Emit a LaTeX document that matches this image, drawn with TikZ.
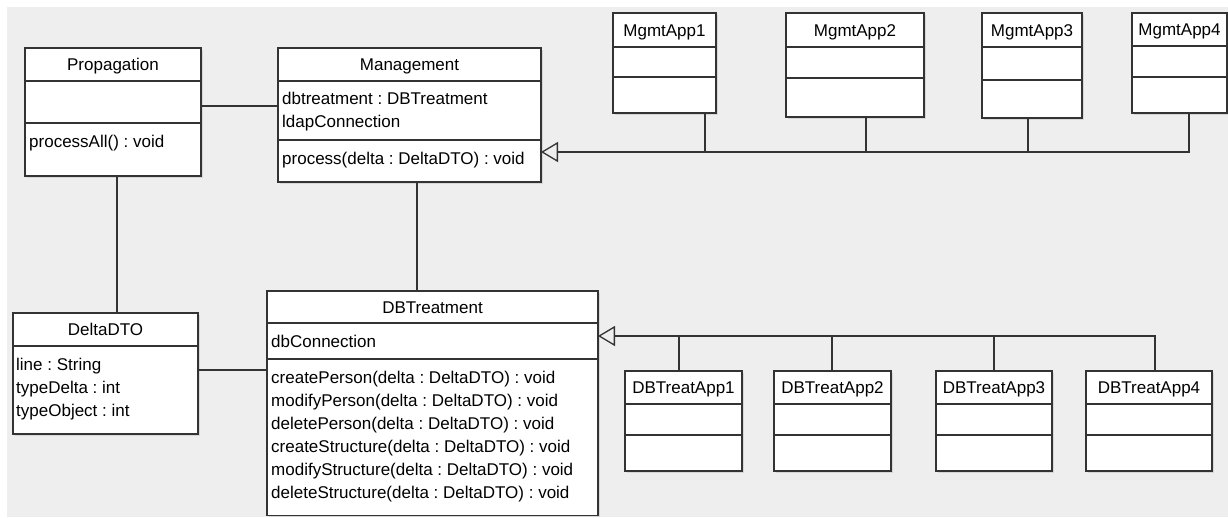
\documentclass[tikz,border=0pt]{standalone}
\usepackage{fontspec}
\setmainfont{Liberation Sans}
\usetikzlibrary{arrows.meta, shadows}
\definecolor{bggray}{HTML}{EEEEEE}
\definecolor{umlline}{HTML}{333333}
\newcommand{\umlfont}{\fontsize{17}{20}\selectfont\frenchspacing}
\tikzset{classbox/.style = {draw = umlline, fill = white, line width = 1.3, inner sep = 0, outer sep = 0, anchor = north west, drop shadow = {shadow xshift = 1.5pt, shadow yshift = -1.5pt, fill = black!25}}}
\tikzset{classtitle/.style = {inner sep = 0, anchor = base, font = \umlfont}}
\tikzset{classline/.style = {inner sep = 0, anchor = base west, font = \umlfont}}
\tikzset{assoc/.style = {draw = umlline, line width = 1.3}}
\tikzset{inherit/.style = {assoc, -{Triangle[open, length = 17pt, width = 20pt]}}}

% name, left, top, right, bottom, divider 1, divider 2, title
\newcommand{\umlclass}[8]{%
  \node [classbox, minimum width = {(#4-#2)*1pt}, minimum height = {(#5-#3)*1pt}] (#1) at (#2, #3) {};
  \draw [assoc] (#2, #6) -- (#4, #6) (#2, #7) -- (#4, #7);
  \node [classtitle] at ({(#2+#4)/2}, {(#3+#6)/2+6}) {#8};
}
% x, first baseline, lines
\newcommand{\umllines}[3]{%
  \foreach \txt [count = \i from 0] in {#3}
    \node [classline] at (#1, {#2+23*\i}) {\txt};
}

\begin{document}
\begin{tikzpicture}[x = 1pt, y = -1pt]
    \useasboundingbox (0, 0) rectangle (1228, 517);
    \fill [white] (0, 0) rectangle (1228, 517);
    \fill [bggray] (7, 7) rectangle (1228, 517);

    \coordinate (mbus) at (0, 152);
    \coordinate (dbus) at (0, 336);

    \umlclass{prop}{25}{48}{201}{176}{81}{123}{Propagation}
    \umllines{29}{147}{{processAll() : void}}

    \umlclass{mgmt}{278}{48}{541}{182}{81}{140}{Management}
    \umllines{282}{104.5}{{dbtreatment : DBTreatment}, {ldapConnection}}
    \umllines{282}{164.5}{{process(delta : DeltaDTO) : void}}

    \umlclass{mapp1}{613}{13}{716}{113}{47}{77}{MgmtApp1}
    \umlclass{mapp2}{786}{13}{924}{117}{47}{78}{MgmtApp2}
    \umlclass{mapp3}{982}{13}{1082}{118}{47}{80}{MgmtApp3}
    \umlclass{mapp4}{1132}{13}{1227}{113}{46}{77}{MgmtApp4}

    \umlclass{delta}{13}{313}{198}{434}{346}{346}{DeltaDTO}
    \umllines{16}{370.5}{{line : String}, {typeDelta : int}, {typeObject : int}}

    \umlclass{dbt}{267}{291}{598}{515.5}{323}{359}{DBTreatment}
    \umllines{271}{347.5}{{dbConnection}}
    \umllines{271}{383.5}{{createPerson(delta : DeltaDTO) : void}, {modifyPerson(delta : DeltaDTO) : void}, {deletePerson(delta : DeltaDTO) : void}, {createStructure(delta : DeltaDTO) : void}, {modifyStructure(delta : DeltaDTO) : void}, {deleteStructure(delta : DeltaDTO) : void}}

    \umlclass{dbapp1}{625}{371}{742}{471}{404}{435}{DBTreatApp1}
    \umlclass{dbapp2}{774}{371}{891}{471}{404}{435}{DBTreatApp2}
    \umlclass{dbapp3}{936}{371}{1052}{471}{404}{435}{DBTreatApp3}
    \umlclass{dbapp4}{1086}{371}{1212}{471}{404}{435}{DBTreatApp4}

    % associations
    \draw [assoc] (prop.east |- 0, 106) -- (mgmt.west |- 0, 106);
    \draw [assoc] (117, 0 |- prop.south) -- (117, 0 |- delta.north);
    \draw [assoc] (delta.east |- 0, 370) -- (dbt.west |- 0, 370);
    \draw [assoc] (417, 0 |- mgmt.south) -- (417, 0 |- dbt.north);

    % generalisations
    \draw [inherit] (1189, 0 |- mapp4.south) |- (mgmt.east |- mbus);
    \foreach \n/\x in {mapp1/705, mapp2/866, mapp3/1028}
      \draw [assoc] (\x, 0 |- \n.south) -- (\x, 0 |- mbus);
    \draw [inherit] (1155, 0 |- dbapp4.north) |- (dbt.east |- dbus);
    \foreach \n/\x in {dbapp1/679, dbapp2/832, dbapp3/994}
      \draw [assoc] (\x, 0 |- \n.north) -- (\x, 0 |- dbus);
\end{tikzpicture}
\end{document}
